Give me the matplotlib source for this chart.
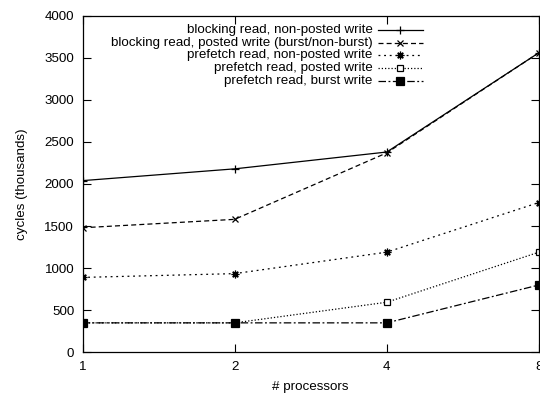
import matplotlib
matplotlib.use("Agg")
import matplotlib.pyplot as plt
from matplotlib.lines import Line2D

plt.rcParams['font.family'] = ['Liberation Sans', 'DejaVu Sans']
plt.rcParams['font.size'] = 9.6

processors = ["1", "2", "4", "8"]
labels = [
    "blocking read, non-posted write",
    "blocking read, posted write (burst/non-burst)",
    "prefetch read, non-posted write",
    "prefetch read, posted write",
    "prefetch read, burst write",
]
blocking_nonposted = [2040, 2180, 2380, 3560]
blocking_posted = [1480, 1580, 2370, 3560]
prefetch_nonposted = [890, 935, 1190, 1780]
prefetch_posted = [350, 350, 595, 1190]
prefetch_burst = [350, 350, 350, 800]

series = [blocking_nonposted, blocking_posted, prefetch_nonposted, prefetch_posted, prefetch_burst]
styles = [
    dict(ls='-', marker='+', ms=6, mfc='black'),
    dict(ls=(0, (4, 2.5)), marker='x', ms=4.5, mfc='black'),
    dict(ls=(0, (1.5, 3)), marker=(8, 2, 0), ms=5.5, mfc='black'),
    dict(ls=(0, (1, 1.6)), marker='s', ms=4.5, mfc='white'),
    dict(ls=(0, (6, 2, 1.5, 2)), marker='s', ms=5.5, mfc='black'),
]

fig = plt.figure(figsize=(5.4, 3.99), dpi=100)
ax = fig.add_axes([0.1528, 0.117, 0.8452, 0.8437])

xs = list(range(len(processors)))
for vals, st in zip(series, styles):
    ax.plot(xs, vals, color='black', lw=0.9, mec='black', mew=0.9,
            linestyle=st['ls'], marker=st['marker'], ms=st['ms'], mfc=st['mfc'])

ax.set_xlim(0, 3)
ax.set_ylim(0, 4000)
ax.set_xticks(xs)
ax.set_xticklabels(processors)
ax.set_yticks(range(0, 4001, 500))
ax.tick_params(direction='in', length=5.5, width=0.8, top=True, right=True, pad=6, labelsize=9.6)
for s in ax.spines.values():
    s.set_linewidth(0.9)
ax.set_xlabel("# processors", fontsize=9.6, labelpad=6)
ax.set_ylabel("cycles (thousands)", fontsize=9.6, labelpad=12)

# manual gnuplot-style legend (text right aligned, sample to the right)
tx = 0.636
lx0, lx1 = 0.647, 0.746
y0 = 0.9575
dy = 0.0377
for i, (lab, st) in enumerate(zip(labels, styles)):
    y = y0 - i * dy
    ax.text(tx, y, lab, transform=ax.transAxes, ha='right', va='center', fontsize=9.6)
    ax.add_line(Line2D([lx0, lx1], [y, y], transform=ax.transAxes, color='black', lw=0.9,
                       linestyle=st['ls']))
    ax.add_line(Line2D([(lx0 + lx1) / 2], [y], transform=ax.transAxes, color='black',
                       marker=st['marker'], ms=st['ms'], mfc=st['mfc'], mec='black', mew=0.9,
                       linestyle='none'))

fig.savefig("out.png", dpi=100)
